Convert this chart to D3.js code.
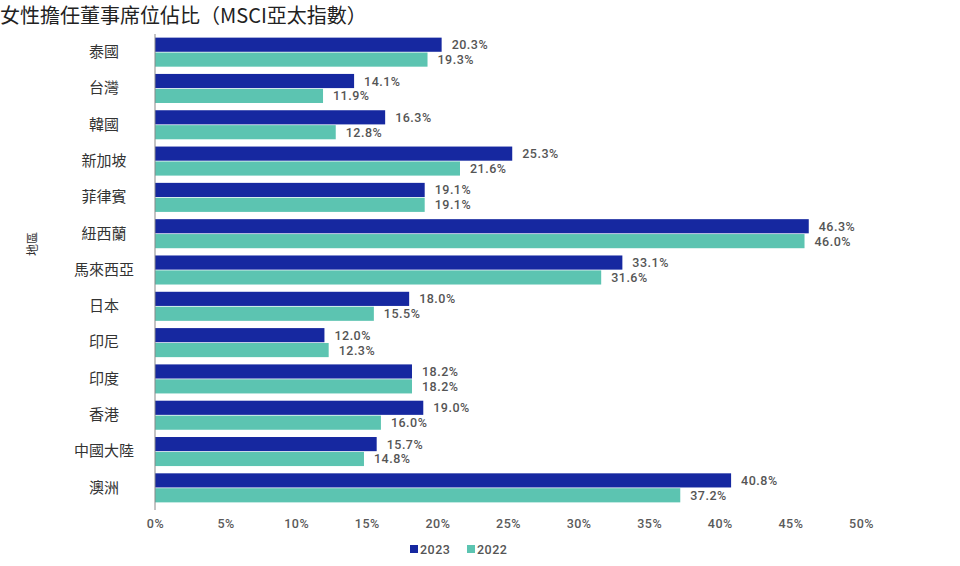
<!DOCTYPE html>
<html><head><meta charset="utf-8">
<script src="https://cdn.jsdelivr.net/npm/d3@7"></script>
<style>body{margin:0;background:#fff}</style>
</head><body>
<svg id="c" width="960" height="566"></svg>
<script>
const categories = ["泰國","台灣","韓國","新加坡","菲律賓","紐西蘭","馬來西亞","日本","印尼","印度","香港","中國大陸","澳洲"];
const values2023 = [20.3,14.1,16.3,25.3,19.1,46.3,33.1,18.0,12.0,18.2,19.0,15.7,40.8];
const values2022 = [19.3,11.9,12.8,21.6,19.1,46.0,31.6,15.5,12.3,18.2,16.0,14.8,37.2];
const seriesNames = ["2023","2022"];
const xTicks = [0,5,10,15,20,25,30,35,40,45,50];

(function(){
const colors = {"2023":"#1628a0","2022":"#5cc4b1"};
const svg = d3.select("#c");
const mLeft = 155, mRight = 861, mTop = 34, mBottom = 506;
const x = d3.scaleLinear().domain([0,50]).range([mLeft,mRight]);
const y = d3.scaleBand().domain(categories).range([mTop,mBottom]).paddingInner(0.2).paddingOuter(0.1);
const y2 = d3.scaleBand().domain(seriesNames).range([0,y.bandwidth()]).paddingInner(0.05);

svg.append("text").attr("x",0).attr("y",23).attr("font-family","'Noto Sans CJK TC'").attr("font-size",20).attr("fill","#222").text("女性擔任董事席位佔比（MSCI亞太指數）");

const data = categories.map((c,i)=>({c, v:{"2023":values2023[i],"2022":values2022[i]}}));
const g = svg.append("g");
data.forEach(d=>{
  seriesNames.forEach(s=>{
    g.append("rect").attr("x",x(0)).attr("y",y(d.c)+y2(s)).attr("width",x(d.v[s])-x(0)).attr("height",y2.bandwidth()).attr("fill",colors[s]);
    g.append("text").attr("x",x(d.v[s])+10).attr("y",y(d.c)+y2(s)+y2.bandwidth()/2).attr("dy","0.36em")
      .attr("font-family","Roboto").attr("font-weight",500).attr("letter-spacing","0.5px").attr("font-size",12.5).attr("fill","#555").text(d.v[s].toFixed(1)+"%");
  });
});

const ya = svg.append("g").attr("transform",`translate(${mLeft},0)`).call(d3.axisLeft(y).tickSize(0).tickPadding(13));
ya.select(".domain").attr("stroke","#888").attr("d",`M0,${mTop}V${mBottom+4}`);
ya.selectAll("text").attr("font-family","'Noto Sans CJK TC'").attr("font-size",15).attr("fill","#333")
  .attr("text-anchor","middle").attr("x",104-mLeft);

const xa = svg.append("g").attr("transform",`translate(0,${mBottom})`).call(d3.axisBottom(x).tickValues(xTicks).tickSize(0).tickPadding(13).tickFormat(d=>d+"%"));
xa.select(".domain").remove();
xa.selectAll("text").attr("font-family","Roboto").attr("font-weight",500).attr("letter-spacing","0.5px").attr("font-size",12.5).attr("fill","#5a5a5a");

svg.append("text").attr("transform","translate(37,244) rotate(-90)").attr("text-anchor","middle")
  .attr("font-family","'Noto Sans CJK TC'").attr("font-size",12).attr("fill","#333").text("地區");

const lg = svg.append("g").attr("transform","translate(410,549)");
seriesNames.forEach((s,i)=>{
  const gg = lg.append("g").attr("transform",`translate(${i*57},0)`);
  gg.append("rect").attr("x",0).attr("y",-4).attr("width",8).attr("height",8).attr("fill",colors[s]);
  gg.append("text").attr("x",10).attr("y",0).attr("dy","0.36em").attr("font-family","Roboto").attr("font-weight",500).attr("letter-spacing","0.5px").attr("font-size",12.5).attr("fill","#555").text(s);
});
})();
</script>
</body></html>
